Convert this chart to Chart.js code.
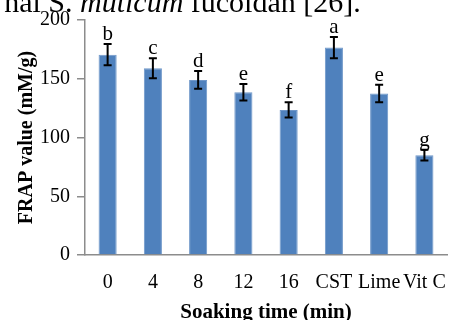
<!DOCTYPE html>
<html lang="en">
<head>
    <meta charset="UTF-8">
    <title>FRAP value vs soaking time</title>
    <script src="https://cdn.jsdelivr.net/npm/chart.js"></script>
    <style>
        body { margin: 0; background: #fff; }
        .frap-container { width: 462px; height: 320px; }
    </style>
</head>
<body>
    <div class="frap-container">
        <canvas id="frapChart" width="462" height="320"></canvas>
    </div>

    <script>
        // data
        const categorias = ['0', '4', '8', '12', '16', 'CST', 'Lime', 'Vit C'];
        const valoresFrap = [170.5, 159, 149, 138.5, 123.5, 176.5, 137.5, 85];
        const erros = [9, 8.5, 7.5, 7, 6.5, 9, 7.5, 4.5];
        const letras = ['b', 'c', 'd', 'e', 'f', 'a', 'e', 'g'];
        const ticksY = [0, 50, 100, 150, 200];

        const serif = '"Liberation Serif", "Times New Roman", serif';

        // error bars + significance letters
        const errorBarPlugin = {
            id: 'errorBars',
            afterDatasetsDraw(chart) {
                const ctx = chart.ctx;
                const x = chart.scales.x;
                const y = chart.scales.y;
                ctx.save();
                ctx.strokeStyle = '#000';
                ctx.lineWidth = 2;
                valoresFrap.forEach((v, i) => {
                    const cx = x.getPixelForValue(i);
                    const top = y.getPixelForValue(v + erros[i]);
                    const bot = y.getPixelForValue(v - erros[i]);
                    ctx.beginPath();
                    ctx.moveTo(cx, top); ctx.lineTo(cx, bot);
                    ctx.moveTo(cx - 4, top); ctx.lineTo(cx + 4, top);
                    ctx.moveTo(cx - 4, bot); ctx.lineTo(cx + 4, bot);
                    ctx.stroke();
                    ctx.fillStyle = '#000';
                    ctx.font = '21px ' + serif;
                    ctx.textAlign = 'center';
                    ctx.textBaseline = 'alphabetic';
                    ctx.fillText(letras[i], cx, top - 4);
                });
                ctx.restore();
            },
            afterDraw(chart) {
                // cropped caption line from the page above the figure
                const ctx = chart.ctx;
                ctx.save();
                ctx.fillStyle = '#000';
                ctx.textBaseline = 'alphabetic';
                ctx.textAlign = 'left';
                const partes = [['nal S. ', false], ['muticum', true], [' fucoidan [26].', false]];
                ctx.font = '30px ' + serif;
                let px = 80 - ctx.measureText(partes[0][0]).width;
                partes.forEach(([t, it]) => {
                    ctx.font = (it ? 'italic ' : '') + '30px ' + serif;
                    ctx.fillText(t, px, 12);
                    px += ctx.measureText(t).width;
                });
                ctx.restore();
            }
        };

        const ctx = document.getElementById('frapChart').getContext('2d');
        new Chart(ctx, {
            type: 'bar',
            data: {
                labels: categorias,
                datasets: [{
                    data: valoresFrap,
                    backgroundColor: '#4F81BD',
                    borderColor: '#6F97C9',
                    borderWidth: 1,
                    categoryPercentage: 1.0,
                    barPercentage: 0.4
                }]
            },
            options: {
                responsive: false,
                animation: false,
                layout: { padding: { top: 20, right: 4, left: 0, bottom: 0 } },
                plugins: {
                    legend: { display: false },
                    tooltip: { enabled: false }
                },
                scales: {
                    x: {
                        grid: { drawOnChartArea: false, drawTicks: false },
                        border: { color: '#8c8c8c', width: 1.5 },
                        ticks: { color: '#000', font: { family: serif, size: 20 }, padding: 16, maxRotation: 0, autoSkip: false },
                        title: { display: true, text: 'Soaking time (min)', color: '#000', font: { family: serif, size: 21, weight: 'bold' }, padding: { top: 0, bottom: -5 } },
                        afterFit(axis) { axis.height = 65; }
                    },
                    y: {
                        min: 0,
                        max: 200,
                        afterBuildTicks(axis) { axis.ticks = ticksY.map(v => ({ value: v })); },
                        grid: { drawOnChartArea: false, drawTicks: true, tickLength: 8, color: '#8c8c8c', lineWidth: 1.5 },
                        border: { color: '#8c8c8c', width: 1.5 },
                        ticks: { color: '#000', font: { family: serif, size: 20 }, padding: 7 },
                        title: { display: true, text: 'FRAP value (mM/g)', color: '#000', font: { family: serif, size: 20, weight: 'bold' }, padding: { top: 15, bottom: 0 } },
                        afterFit(axis) { axis.width = 85; }
                    }
                }
            },
            plugins: [errorBarPlugin]
        });
    </script>
</body>
</html>
